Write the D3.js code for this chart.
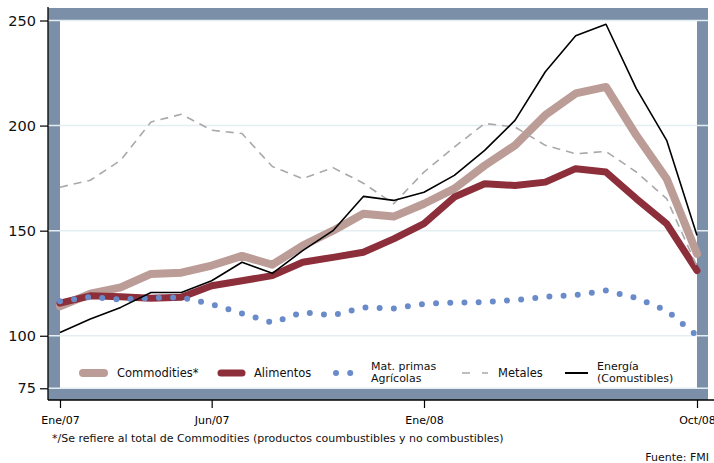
<!DOCTYPE html>
<html>
<head>
<meta charset="utf-8">
<script src="https://cdn.jsdelivr.net/npm/d3@7"></script>
<style>
  body { margin: 0; background: #fff; }
  svg { display: block; font-family: "DejaVu Sans", Verdana, sans-serif; }
</style>
</head>
<body>
<div id="chart"></div>
<script>
// monthly index values, Ene/07 .. Oct/08 (22 months)
const monthIdx = d3.range(22);
const commodities = [114, 120, 123, 129.4, 130, 133.4, 138, 133.8, 142.9, 150, 158, 156.7, 162.8, 170, 181, 190.6, 205, 215.3, 218.4, 195.4, 174.7, 139];
const alimentos   = [115.5, 119, 118.6, 117.8, 118.3, 123.8, 126.2, 128.6, 135, 137.3, 139.7, 146.1, 153.3, 166, 172.3, 171.5, 173.1, 179.5, 177.9, 165.2, 153.3, 131];
const matPrimas   = [116.4, 118.5, 117.2, 118, 118.2, 115, 110.6, 106.2, 111.2, 109.7, 113.5, 113, 115.2, 115.8, 116, 117, 118.5, 119.4, 121.5, 118, 112, 100];
const metales     = [170.7, 174, 183.5, 201.7, 205.4, 197.8, 196.2, 180.5, 174.7, 180, 172.6, 162.8, 177.9, 189.8, 201, 199.3, 190.6, 186.6, 187.7, 177.9, 165.2, 133];
const energia     = [101.6, 108, 113.5, 120.6, 120.6, 126.2, 135, 129.7, 140.5, 150, 166.3, 164.4, 168.3, 176.3, 188.2, 202.5, 225.6, 242.7, 248.2, 217.6, 193, 147.7];

const xTickIdx = [0, 5, 12, 21];
const xTickLabels = ["Ene/07", "Jun/07", "Ene/08", "Oct/08"];
const yTicks = [250, 200, 150, 100, 75];
const gridTicks = [250, 200, 150, 100, 75];

const seriesNames = ["Commodities*", "Alimentos", "Mat. primas\nAgrícolas", "Metales", "Energía\n(Comustibles)"];

// styles per series (same order as names)
const styles = [
  { color: "#bc9c96", width: 8, dash: null, cap: "round" },
  { color: "#8c2f3b", width: 7, dash: null, cap: "round" },
  { color: "#6a8bca", width: 6, dash: "0,14.2", cap: "round" },
  { color: "#a9a9a9", width: 1.6, dash: "8,6", cap: "butt" },
  { color: "#000000", width: 1.6, dash: null, cap: "butt" }
];

const width = 714, height = 463;
// inner plot (white) area; a steel-blue band of 12px surrounds it
const inner = { left: 60, right: 697, top: 20.5, bottom: 388.3 };
const band = 12;

const svg = d3.select("#chart").append("svg")
  .attr("width", width)
  .attr("height", height);

const x = d3.scaleLinear().domain([0, 21]).range([inner.left, inner.right]);
const y = d3.scaleLinear().domain([75, 250]).range([inner.bottom, inner.top]);

const frameL = inner.left - band, frameR = inner.right + 11, frameT = 8, frameB = 400;

// blue frame + white plot area
svg.append("rect")
  .attr("x", frameL).attr("y", frameT)
  .attr("width", frameR - frameL).attr("height", frameB - frameT)
  .attr("fill", "#7b90a8");
svg.append("rect")
  .attr("x", inner.left).attr("y", inner.top)
  .attr("width", inner.right - inner.left).attr("height", inner.bottom - inner.top)
  .attr("fill", "#ffffff");

// gridlines
svg.append("g")
  .selectAll("line")
  .data(gridTicks)
  .enter().append("line")
    .attr("x1", frameL).attr("x2", frameR)
    .attr("y1", d => y(d)).attr("y2", d => y(d))
    .attr("stroke", "#e4edf2")
    .attr("stroke-width", 1.5);

// y axis
const yAxis = d3.axisLeft(y).tickValues(yTicks).tickSize(8).tickPadding(4);
const gy = svg.append("g")
  .attr("transform", `translate(${frameL},0)`)
  .call(yAxis);
gy.select(".domain").remove();
gy.selectAll(".tick line").attr("stroke", "#000").attr("stroke-width", 1.2);
gy.selectAll(".tick text").attr("font-size", "14.5px").attr("fill", "#111")
  .attr("font-family", "DejaVu Sans");
svg.append("line")
  .attr("x1", frameL).attr("x2", frameL)
  .attr("y1", frameT - 1).attr("y2", frameB)
  .attr("stroke", "#000").attr("stroke-width", 1.3);

// x axis
const xAxis = d3.axisBottom(x).tickValues(xTickIdx)
  .tickFormat((d, i) => xTickLabels[i]).tickSize(8).tickPadding(8);
const gx = svg.append("g")
  .attr("transform", `translate(0,${frameB})`)
  .call(xAxis);
gx.select(".domain").remove();
gx.selectAll(".tick line").attr("stroke", "#000").attr("stroke-width", 1.2);
gx.selectAll(".tick text").attr("font-size", "11px").attr("fill", "#000")
  .attr("font-family", "DejaVu Sans");
svg.append("line")
  .attr("x1", frameL).attr("x2", width)
  .attr("y1", frameB).attr("y2", frameB)
  .attr("stroke", "#000").attr("stroke-width", 1.3);

// series lines
const allSeries = [commodities, alimentos, matPrimas, metales, energia];
const line = d3.line()
  .x((d, i) => x(monthIdx[i]))
  .y(d => y(d));

svg.append("g")
  .selectAll("path")
  .data(allSeries)
  .enter().append("path")
    .attr("d", d => line(d))
    .attr("fill", "none")
    .attr("stroke", (d, i) => styles[i].color)
    .attr("stroke-width", (d, i) => styles[i].width)
    .attr("stroke-dasharray", (d, i) => styles[i].dash)
    .attr("stroke-linecap", (d, i) => styles[i].cap)
    .attr("stroke-linejoin", "round");

// legend (inside plot, along the bottom)
const legendSwatch = [[83, 104], [221, 242], [336, 351], [462, 488], [565, 588]];
const legendTextX = [117, 254, 371, 498, 597];
const legendY = 373;

const lg = svg.append("g");
seriesNames.forEach((name, i) => {
  const s = styles[i];
  lg.append("line")
    .attr("x1", legendSwatch[i][0]).attr("x2", legendSwatch[i][1])
    .attr("y1", legendY).attr("y2", legendY)
    .attr("stroke", s.color)
    .attr("stroke-width", i == 3 ? 1.6 : (i == 4 ? 2 : s.width))
    .attr("stroke-dasharray", i == 3 ? "8,12" : s.dash)
    .attr("stroke-linecap", s.cap);
  const lines = name.split("\n");
  if (lines.length == 1) {
    lg.append("text")
      .attr("x", legendTextX[i]).attr("y", legendY + 4)
      .attr("font-size", "11.5px").attr("fill", "#111")
      .text(name);
  } else {
    // two separate text lines, stacked
    lines.forEach((l, j) => {
      lg.append("text")
        .attr("x", legendTextX[i]).attr("y", legendY - 3 + j * 12)
        .attr("font-size", "11px").attr("fill", "#111")
        .text(l);
    });
  }
});

// footnote + source
svg.append("text")
  .attr("x", 52).attr("y", 442)
  .attr("font-size", "11px").attr("fill", "#111")
  .text("*/Se refiere al total de Commodities (productos coumbustibles y no combustibles)");
svg.append("text")
  .attr("x", 709).attr("y", 461)
  .attr("text-anchor", "end")
  .attr("font-size", "11px").attr("fill", "#111")
  .text("Fuente: FMI");
</script>
</body>
</html>
